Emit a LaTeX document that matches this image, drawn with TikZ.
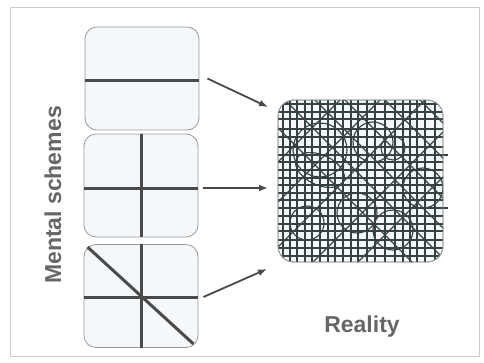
\documentclass[tikz,border=0pt]{standalone}
\usepackage{fontspec}
\setmainfont{Liberation Sans}
\usetikzlibrary{arrows.meta}
\definecolor{boxfill}{HTML}{F4F8FA}
\definecolor{boxline}{HTML}{9A9A9A}
\definecolor{ink}{HTML}{4A4A4A}
\definecolor{gridc}{HTML}{364242}
\definecolor{txt}{HTML}{666666}
\begin{document}
\begin{tikzpicture}[x=1pt,y=-1pt,
  schemebox/.style={draw=boxline, line width=0.8pt, fill=boxfill, rounded corners=12pt, minimum width=114pt, minimum height=103pt, inner sep=0pt},
  realbox/.style={draw=boxline, line width=0.8pt, rounded corners=16pt, minimum width=165pt, minimum height=162pt, inner sep=0pt},
  thickline/.style={ink, line width=3pt},
  arrowline/.style={ink, line width=1.8pt, -{Latex[length=9pt,width=7pt]}},
  gridline/.style={gridc, line width=1.15pt},
  textlabel/.style={font=\bfseries\fontsize{23}{27}\selectfont, text=txt}]
\useasboundingbox (0,0) rectangle (484,362);
\fill[white] (0,0) rectangle (484,362);
\draw[black!20, line width=1pt] (10,7) rectangle (479,356);

% scheme boxes
\node[schemebox] (b1) at (142,78.5) {};
\node[schemebox] (b2) at (141,185.5) {};
\node[schemebox] (b3) at (141,296) {};

\draw[thickline] ([yshift=-1.5pt]b1.west) -- ([yshift=-1.5pt]b1.east);
\draw[thickline] ([yshift=-2.5pt]b2.west) -- ([yshift=-2.5pt]b2.east);
\draw[thickline] (b2.north) -- (b2.south);
\draw[thickline] ([yshift=-1pt]b3.west) -- ([yshift=-1pt]b3.east);
\draw[thickline] (b3.north) -- (b3.south);
\draw[thickline] ([shift={(4pt,-3pt)}]b3.north west) -- ([shift={(-5pt,4pt)}]b3.south east);

% reality box
\node[realbox, fill=boxfill] (re) at (360.5,181) {};
\begin{scope}
\clip[rounded corners=16pt] (278,100) rectangle (443,262);
\foreach \x in {283,290,297,305,312,320,328,335,343,351,358,367,375,385,395,403,410,417,425,435}
  \draw[gridline] (\x,95) -- (\x,267);
\foreach \y in {104,112,119,129,137,147,155,162,170,178,185,193,200,208,216,224,231,240,248,256}
  \draw[gridline] (273,\y) -- (448,\y);
\foreach \c in {150,185,215,245,285,320}
  \draw[gridline] (270,270-\c) -- (450,450-\c);
\foreach \d in {440,480,525,575,620}
  \draw[gridline] (\d-270,270) -- (\d-90,90);
\draw[gridline] (320,150) circle (27);
\draw[gridline] (373,142) circle (20);
\draw[gridline] (393,148) circle (12);
\draw[gridline, rotate around={-25:(320,170)}] (320,170) ellipse (26 and 15);
\draw[gridline] (423,188) circle (20);
\draw[gridline] (307,223) circle (17);
\draw[gridline] (357,213) circle (20);
\draw[gridline] (393,230) circle (20);
\end{scope}
\draw[gridline] (443,155) -- (448,155);
\draw[gridline] (443,208) -- (448,208);
\node[realbox] at (re) {};

% arrows
\coordinate (t1) at (268,107);
\coordinate (t2) at (268,188);
\coordinate (t3) at (267,269);
\draw[arrowline] ([shift={(8pt,0pt)}]b1.east) -- (t1);
\draw[arrowline] ([shift={(5pt,-2.5pt)}]b2.east) -- (t2);
\draw[arrowline] ([shift={(5pt,-1pt)}]b3.east) -- (t3);

% labels
\node[textlabel, rotate=90] (ms) at (53,195) {Mental schemes};
\node[textlabel] (rl) at (362,327) {Reality};
\end{tikzpicture}
\end{document}
